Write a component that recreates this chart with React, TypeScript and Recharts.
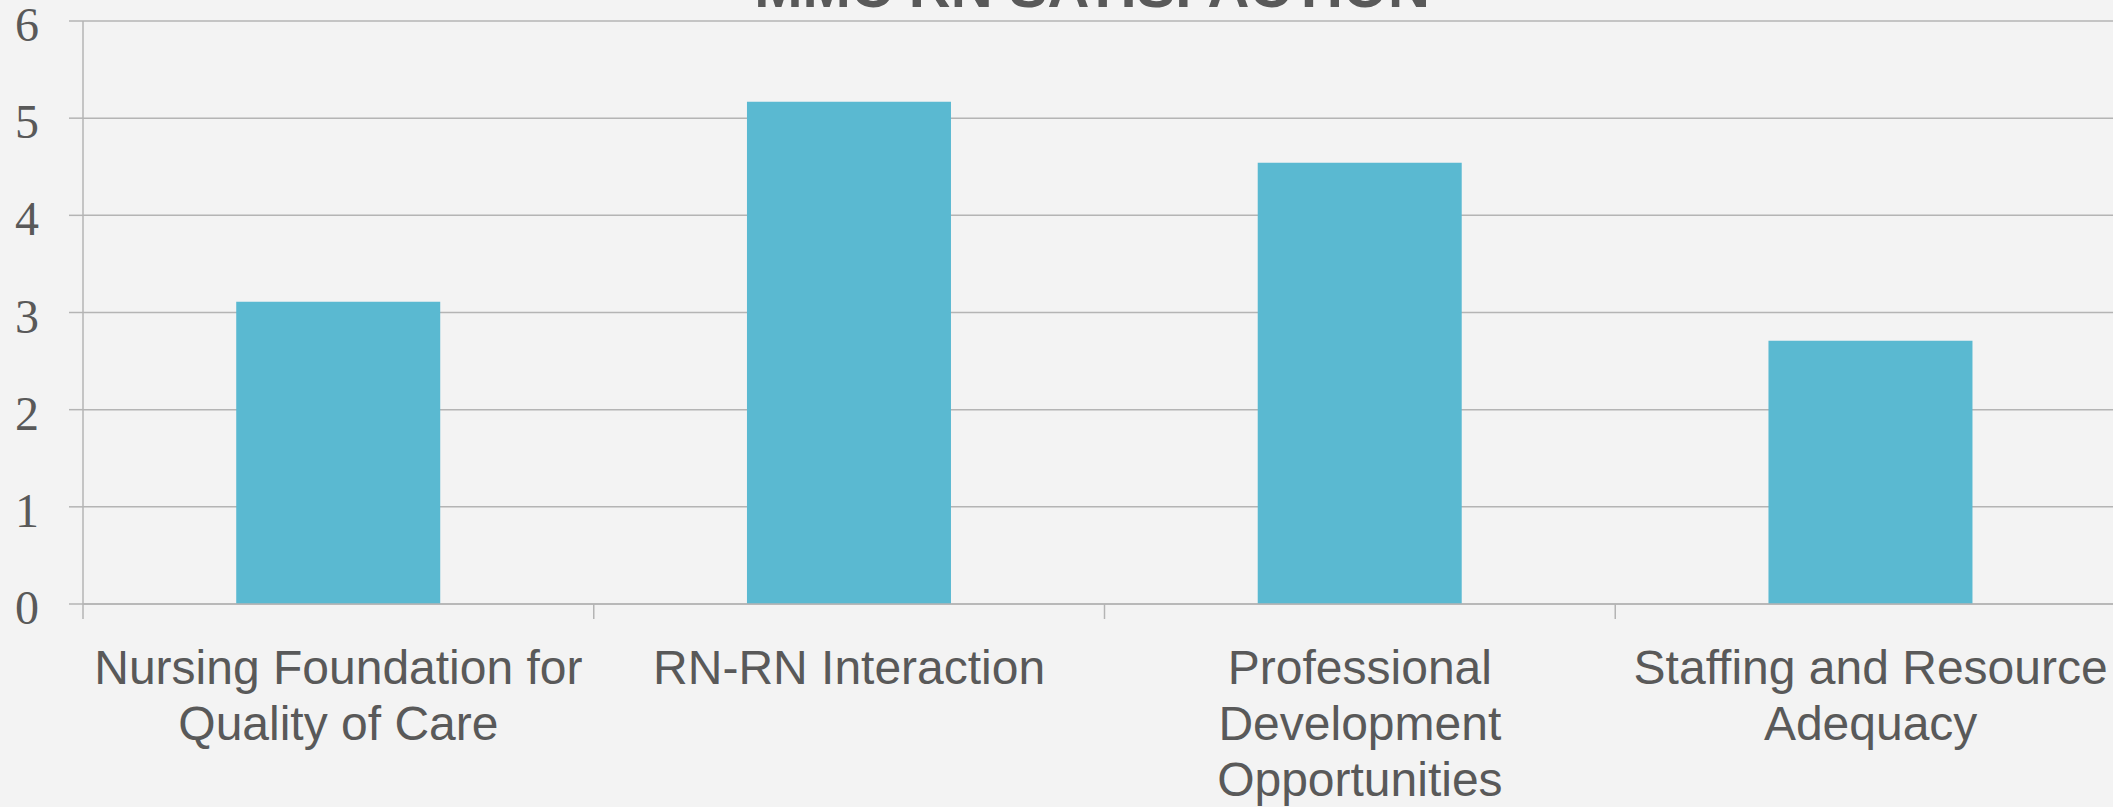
import React from "react";
import { BarChart, Bar, XAxis, YAxis, CartesianGrid } from "recharts";

const categories = [
  "Nursing Foundation for Quality of Care",
  "RN-RN Interaction",
  "Professional Development Opportunities",
  "Staffing and Resource Adequacy",
];
const categoryLines = [
  ["Nursing Foundation for", "Quality of Care"],
  ["RN-RN Interaction"],
  ["Professional", "Development", "Opportunities"],
  ["Staffing and Resource", "Adequacy"],
];
const satisfaction = [3.11, 5.17, 4.54, 2.71];
const yTicks = [0, 1, 2, 3, 4, 5, 6];
const title = "MMC RN SATISFACTION";

const data = categories.map((c, i) => ({ name: c, value: satisfaction[i], idx: i }));

const GRID = "#b4b4b4";
const TEXT = "#595959";
const BAR = "#5ab9d1";
const BG = "#f3f3f3";

const XTick = (props: any) => {
  const { x, y, payload, index } = props;
  const half = payload && payload.offset ? payload.offset : 255.4;
  const lines = categoryLines[index] || [String(payload.value)];
  return (
    <g>
      <line x1={x - half} x2={x - half} y1={y} y2={y + 15} stroke={GRID} strokeWidth={1.5} />
      {index === categories.length - 1 && (
        <line x1={x + half} x2={x + half} y1={y} y2={y + 15} stroke={GRID} strokeWidth={1.5} />
      )}
      <text
        x={x}
        y={y + 80}
        textAnchor="middle"
        fill={TEXT}
        fontFamily="'Liberation Sans', Arial, sans-serif"
        fontSize={48}
      >
        {lines.map((l: string, i: number) => (
          <tspan key={i} x={x} dy={i === 0 ? 0 : 56}>
            {l}
          </tspan>
        ))}
      </text>
    </g>
  );
};

const YTick = (props: any) => {
  const { x, y, payload } = props;
  return (
    <text
      x={x}
      y={y + 20}
      textAnchor="end"
      fill={TEXT}
      fontFamily="'Liberation Serif', 'Times New Roman', serif"
      fontSize={48}
    >
      {payload.value}
    </text>
  );
};

export default function App() {
  return (
    <div
      style={{
        position: "fixed",
        left: 0,
        top: 0,
        width: 2113,
        height: 807,
        overflow: "hidden",
        background: BG,
      }}
    >
      <BarChart
        width={2126}
        height={807}
        data={data}
        margin={{ top: 21, right: 0, bottom: 0, left: 0 }}
        barCategoryGap="30%"
      >
        <CartesianGrid horizontal={true} vertical={false} stroke={GRID} strokeWidth={1.5} />
        <XAxis
          dataKey="name"
          height={203}
          tickLine={false}
          tickSize={0}
          tickMargin={0}
          axisLine={{ stroke: GRID, strokeWidth: 1.5 }}
          tick={<XTick />}
          interval={0}
        />
        <YAxis
          width={83}
          domain={[0, 6]}
          ticks={yTicks}
          interval={0}
          tickSize={14}
          tickMargin={30}
          tickLine={{ stroke: GRID, strokeWidth: 1.5 }}
          axisLine={{ stroke: GRID, strokeWidth: 1.5 }}
          tick={<YTick />}
        />
        <Bar dataKey="value" fill={BAR} isAnimationActive={false} />
        <text
          x={1092}
          y={7}
          textAnchor="middle"
          fill={TEXT}
          fontFamily="'Liberation Sans', Arial, sans-serif"
          fontWeight="bold"
          fontSize={58}
        >
          {title}
        </text>
      </BarChart>
    </div>
  );
}
